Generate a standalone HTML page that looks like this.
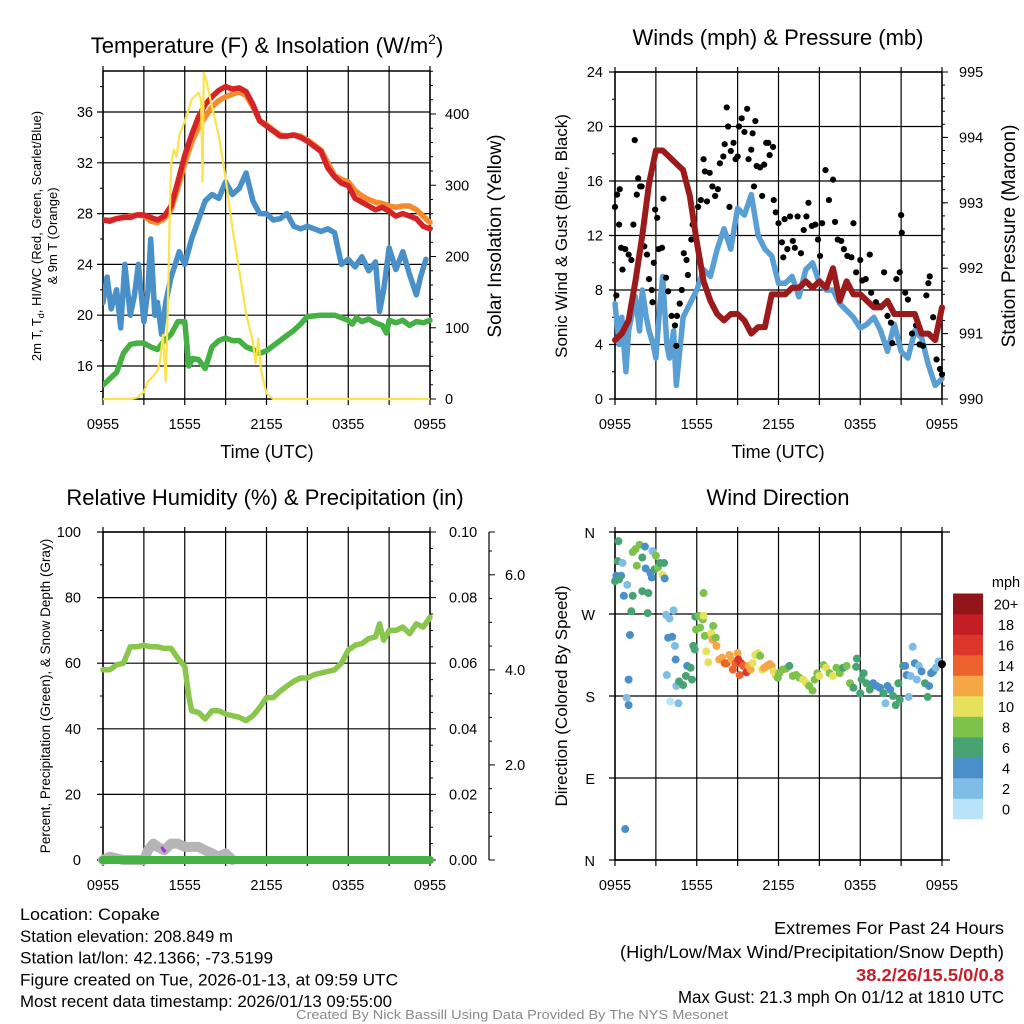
<!DOCTYPE html>
<html><head><meta charset="utf-8">
<style>
html,body{margin:0;padding:0;background:#fff;}
svg{display:block;font-family:"Liberation Sans",sans-serif;}
.ft{font-family:"Liberation Sans Narrow","Liberation Sans",sans-serif;}
</style></head>
<body>
<svg id="c" width="1024" height="1024" viewBox="0 0 1024 1024"></svg>
<script>
// ---------- DATA ----------
const tempHours=[0,0.5,1,1.5,2,2.5,3,3.5,4,4.5,5,5.5,6,6.5,7,7.5,8,8.5,9,9.5,10,10.5,11,11.5,12,12.5,13,13.5,14,14.5,15,15.5,16,16.5,17,17.5,18,18.5,19,19.5,20,20.5,21,21.5,22,22.5,23,23.5,24];
const tempRed=[27.5,27.4,27.6,27.7,27.7,27.9,27.9,27.7,27.5,27.8,28.6,30.5,32.6,34.2,35.6,36.6,37.2,37.7,38.0,37.8,37.9,37.6,36.6,35.3,34.9,34.5,34.1,34.1,34.2,34.0,33.7,33.3,32.9,31.6,30.9,30.4,30.2,29.2,28.9,28.6,28.3,28.5,28.2,27.8,28.0,27.8,27.6,27.0,26.8];
const tempOrange=[27.5,27.5,27.6,27.7,27.8,27.9,27.8,27.4,27.3,27.6,28.3,30.0,32.0,33.6,34.8,35.6,36.4,36.9,37.2,37.4,37.6,37.3,36.4,35.3,35.0,34.6,34.2,34.1,34.2,34.1,33.8,33.4,33.0,32.0,31.0,30.7,30.5,29.8,29.4,29.1,28.9,28.8,28.6,28.5,28.6,28.6,28.3,27.8,27.3];
const dewHours=[0,0.3,0.6,1,1.3,1.6,2,2.3,2.6,3,3.3,3.5,3.8,4,4.3,4.6,5,5.3,5.6,6,6.5,7,7.5,8,8.5,9,9.5,10,10.5,11,11.5,12,12.5,13,13.5,14,14.5,15,15.5,16,16.5,17,17.5,18,18.5,19,19.5,20,20.3,20.6,21,21.5,22,22.5,23,23.3,23.7];
const dewBlue=[21,23,20.5,22,19,24,20,21.5,24,19.5,22,26,20,21,18.5,21,23,24,25,24,26,27.5,29,29.5,29.2,30.5,29.5,30,31.2,29,28,28,27.5,27.6,28,27,26.8,27,26.8,26.6,26.8,26.5,24,24.4,23.8,24.6,23.5,24.2,20.3,22,25.3,23.6,25,23.2,21.6,23,24.4];
const wcHours=[0,0.5,1,1.5,2,2.5,3,3.5,4,4.5,5,5.5,6,6.3,6.6,7,7.5,8,8.5,9,9.5,10,10.5,11,11.5,12,12.5,13,13.5,14,14.5,15,16,17,17.5,18,18.3,18.6,19,19.5,20,20.5,20.8,21,21.5,22,22.5,23,23.5,24];
const wcGreen=[14.5,15.0,15.5,17.0,17.7,17.8,17.8,17.5,17.3,18.0,18.5,19.5,19.5,16.0,16.6,16.5,15.8,17.5,18.0,18.2,18.0,18.0,17.5,17.3,17.0,17.2,17.6,18.0,18.4,18.8,19.3,19.9,20.0,20.0,19.8,19.6,19.3,19.8,19.5,19.7,19.4,19.2,18.6,19.6,19.4,19.6,19.2,19.5,19.4,19.6];
const solarHours=[0,2,2.5,3,3.3,3.6,4,4.2,4.4,4.5,4.6,4.75,4.9,5.0,5.2,5.4,5.6,6,6.5,7,7.2,7.3,7.4,7.6,8,8.5,9,9.5,10,10.5,11,11.2,11.4,11.6,12,12.5,24];
const solarW=[0,0,2,10,25,30,40,55,90,60,25,120,260,330,350,340,370,390,420,430,420,305,458,445,410,370,310,240,180,120,80,50,85,40,8,0,0];
const windHours=[0,0.3,0.5,0.8,1,1.3,1.5,1.8,2,2.3,2.5,2.8,3,3.3,3.5,3.8,4,4.3,4.5,4.8,5,5.5,6,6.5,7,7.5,8,8.5,9,9.5,10,10.5,11,11.5,12,12.5,13,13.5,14,14.5,15,15.5,16,16.5,17,17.5,18,18.5,19,19.5,20,20.5,21,21.5,22,22.5,23,23.5,24];
const windBlue=[7,4,6,2,5,6.5,7.5,5,8,6,5,4,3,7,9,4,3,5,1,4,6,7,8,9.5,9,11,12.5,11,14,13.5,15,12,11,10.5,8.5,8.5,9,7.5,9.5,10,8.5,8,8,7,6.5,6,5.2,5.5,6,5,3.5,5.5,3.5,3,5,4.5,2.5,1,1.5];
const presHours=[0,0.5,1,1.5,2,2.5,3,3.5,4,4.5,5,5.5,6,6.5,7,7.5,8,8.5,9,9.5,10,10.5,11,11.5,12,12.5,13,13.5,14,14.5,15,15.5,16,16.5,17,17.5,18,18.5,19,19.5,20,20.5,21,21.5,22,22.5,23,23.5,24];
const presMb=[990.9,991.0,991.2,991.8,992.5,993.3,993.8,993.8,993.7,993.6,993.5,993.1,992.4,991.8,991.5,991.3,991.2,991.3,991.3,991.2,991.0,991.1,991.1,991.6,991.6,991.6,991.7,991.7,991.8,991.7,991.8,991.7,992.0,991.5,991.8,991.6,991.6,991.5,991.4,991.4,991.5,991.3,991.3,991.3,991.3,991.0,991.0,990.9,991.4];
const gustHours=[0,0.1,0.15,0.3,0.35,0.45,0.55,0.75,1.0,1.2,1.35,1.45,1.6,1.7,1.85,1.95,2.15,2.35,2.5,2.7,2.75,2.85,2.95,3.1,3.2,3.45,3.55,3.75,3.9,4.15,4.4,4.5,4.55,4.75,4.9,5.05,5.25,5.35,5.6,5.7,5.9,6.1,6.3,6.5,6.6,6.75,6.95,7.15,7.35,7.55,7.7,7.95,8.05,8.2,8.3,8.4,8.5,8.7,8.85,9.0,9.1,9.3,9.5,9.7,9.8,10.0,10.1,10.2,10.3,10.4,10.65,10.8,10.95,11.1,11.25,11.35,11.6,11.65,11.8,12.0,12.25,12.35,12.45,12.65,12.85,13.05,13.2,13.4,13.65,13.85,14.05,14.2,14.45,14.7,14.9,15.05,15.2,15.45,15.7,16.0,16.15,16.35,16.6,16.8,17.05,17.35,17.5,17.7,18.0,18.15,18.4,18.7,18.8,19.15,19.4,19.75,20.0,20.25,20.35,20.65,20.9,21.0,21.05,21.3,21.5,21.8,22.1,22.35,22.6,22.85,23.0,23.1,23.35,23.6,23.85,24.0];
const gustMph=[14.1,7.6,15.0,12.8,15.4,11.1,9.5,11.0,10.6,10.2,12.8,19.0,15.0,16.2,15.6,15.6,11.2,10.6,8.8,8.0,7.1,10.0,13.9,13.3,11.0,11.1,14.7,8.9,7.9,6.1,5.4,3.9,6.1,7.0,8.0,10.7,10.2,9.1,11.7,12.8,11.8,14.1,14.6,17.6,16.7,14.5,16.6,15.6,14.9,15.4,17.3,17.8,18.7,21.4,20.0,14.1,18.2,18.8,17.6,17.8,20.0,20.6,19.6,21.3,17.6,18.3,19.5,15.6,20.4,17.1,17.0,14.9,17.2,18.8,18.8,17.9,18.5,14.6,13.7,12.9,11.5,10.4,13.2,11.0,13.4,11.6,11.1,13.4,10.7,12.4,13.4,14.4,12.7,12.8,11.7,10.5,12.9,16.8,14.6,16.1,13.0,11.7,11.6,11.0,10.5,10.4,12.9,9.3,10.2,8.7,8.8,10.6,7.8,7.1,6.8,9.3,6.1,5.6,4.1,8.8,9.3,13.5,12.2,7.8,7.3,4.8,5.4,4.0,3.9,7.6,8.5,9.0,6.0,2.9,2.2,1.8];
const rhHours=[0,0.5,1,1.5,2,2.5,3,3.5,4,4.5,5,5.5,6,6.3,6.5,7,7.5,8,8.5,9,9.5,10,10.5,11,11.5,12,12.5,13,13.5,14,14.5,15,15.5,16,16.5,17,17.5,18,18.5,19,19.5,20,20.3,20.6,21,21.5,22,22.5,23,23.5,24];
const rhPct=[58,58,59.5,60,65,65,65.5,65,65,64.5,64.5,61.5,59,50,45.5,45,43,45.5,45.5,44.5,44,43.5,42.5,44,46.5,49.5,49.5,51.5,53,54.5,55.5,55.5,56.5,57,57.5,58,60,64,65.5,66,67.5,68,72,67,70,70,71,69,72,71,74];
const snowHours=[0,0.5,1,1.5,2,2.5,3,3.3,3.7,4,4.5,5,5.5,6,6.5,7,7.5,8,8.5,9,9.5];
const snowDepth=[0,1,0.5,0,0,0,0,3,5,4,3,5,5,4,4,4,3,2,1,2,0];
const dirHours=[0,0.1,0.2,0.45,0.3,0.55,0.65,0.9,1.0,0.85,0.75,1.1,1.0,1.2,1.3,0.25,1.3,1.5,1.8,1.6,2.0,2.2,2.0,2.45,2.4,2.25,2.6,2.75,2.7,2.9,3.0,3.15,3.3,3.6,3.5,3.65,3.75,4.0,3.9,4.2,4.3,4.4,4.45,3.8,4.05,4.65,4.5,4.7,5.0,5.3,5.2,5.55,5.65,5.75,5.85,5.9,6.15,5.95,6.25,6.45,6.5,6.5,6.6,6.7,6.85,7.05,7.15,7.2,7.4,7.45,7.65,7.85,8.05,8.2,8.4,8.55,8.65,8.85,9.0,9.05,9.15,9.25,9.4,9.5,9.65,9.8,9.95,10.1,10.3,10.5,10.65,10.8,10.95,11.15,11.35,11.5,11.65,11.8,11.95,12.05,12.3,12.55,12.8,13.05,13.3,13.55,13.8,14.05,14.25,14.5,14.65,14.85,15.0,15.3,15.5,15.75,16.0,16.25,16.5,16.75,17.0,17.25,17.5,17.75,17.7,18.0,18.1,18.25,18.45,18.7,18.95,19.2,19.45,19.7,19.85,20.0,20.2,20.4,20.6,20.8,20.9,21.15,21.3,21.4,21.55,21.7,21.85,22.0,22.15,22.3,22.5,22.75,22.95,23.05,23.2,23.35,23.55,23.75,24.0];
const dirDeg=[306,312,328,312,308,326,290,302,170,178,34,247,198,273,290,350,338,341,346,323,332,344,295,293,271,320,315,339,310,319,334,321,326,326,313,309,269,265,244,245,274,235,220,203,174,172,191,196,192,213,202,211,198,235,231,267,268,253,255,264,268,293,246,229,217,249,242,257,244,235,220,222,216,216,225,220,209,216,227,220,203,216,213,213,206,213,209,216,225,227,224,209,211,213,215,213,207,202,200,205,209,210,213,202,203,200,198,194,191,186,198,205,202,214,211,205,202,211,205,211,213,194,189,221,212,183,198,205,194,187,194,191,189,183,172,191,187,180,170,194,176,213,213,203,179,202,234,216,198,213,207,194,179,191,205,207,211,218,215];
const dirSpeed=[6,4,6,4,6,2,4,2,4,2,4,4,4,6,6,6,8,8,8,8,6,4,6,6,6,4,4,2,4,6,8,8,6,6,10,4,2,2,4,4,2,2,4,2,0,2,2,6,6,4,6,6,6,6,6,6,8,8,8,8,10,8,8,10,10,10,12,8,8,12,12,12,14,14,12,12,14,14,12,16,14,16,14,14,16,12,12,10,10,10,8,10,12,12,12,12,10,10,8,8,8,8,6,8,8,8,10,10,8,8,8,8,10,8,10,8,10,8,8,6,8,8,6,6,6,6,6,6,6,6,4,4,4,6,2,4,4,6,6,6,6,6,4,4,2,2,2,4,2,2,4,6,6,4,4,4,2,2];
const speedColors=["#b8e3f8","#80bde6","#4a8fc7","#47a472","#7dc24b","#e6e15b","#f6a745","#ee622d","#dc3529","#c21e24","#911519"];
const speedLabels=["0","2","4","6","8","10","12","14","16","18","20+"];
const timeLabels=["0955","1555","2155","0355","0955"];

// ---------- HELPERS ----------
const svg=document.getElementById('c');
const NS="http://www.w3.org/2000/svg";
function mk(tag,attrs,parent){const e=document.createElementNS(NS,tag);for(const k in attrs)e.setAttribute(k,attrs[k]);(parent||svg).appendChild(e);return e;}
function txt(s,x,y,size,anchor,parent,extra){const e=mk('text',Object.assign({x:x,y:y,'font-size':size,'text-anchor':anchor||'middle',fill:'#000'},extra||{}),parent);e.textContent=s;return e;}
function scale(d0,d1,r0,r1){return v=>r0+(v-d0)/(d1-d0)*(r1-r0);}
function pts(xs,ys,fx,fy){return xs.map((h,i)=>fx(h).toFixed(1)+','+fy(ys[i]).toFixed(1)).join(' ');}

function frame(g,x0,x1,y0,y1,yTicksPx,minorPx){
  yTicksPx.forEach(y=>{mk('line',{x1:x0-6,x2:x1,y1:y,y2:y,stroke:'#000','stroke-width':1.2},g);});
  minorPx.forEach(y=>{mk('line',{x1:x0-3,x2:x0,y1:y,y2:y,stroke:'#000','stroke-width':1},g);});
  for(let i=0;i<=8;i++){const x=x0+(x1-x0)*i/8;mk('line',{x1:x,x2:x,y1:y0-5,y2:y1+6,stroke:'#000','stroke-width':1.2},g);}
  mk('rect',{x:x0,y:y0,width:x1-x0,height:y1-y0,fill:'none',stroke:'#000','stroke-width':1.5},g);
  for(let i=0;i<5;i++){const x=x0+(x1-x0)*i/4;txt(timeLabels[i],x,y1+30,14.5,'middle',g);}
}

// ================= PANEL 1 =================
(function(){
const g=mk('g',{});


const X0=103,X1=430,Y0=71,Y1=399;
const fx=scale(0,24,X0,X1), fy=scale(16,36,366,112), fs=scale(0,400,399,114);
const tick=[16,20,24,28,32,36];
const minor=[];for(let v=14;v<=38;v+=2)if(v%4)minor.push(fy(v));
frame(g,X0,X1,Y0,Y1,tick.map(fy),minor);
tick.forEach(v=>txt(String(v),X0-10,fy(v)+5,14.5,'end',g));
[0,100,200,300,400].forEach(v=>{mk('line',{x1:X1,x2:X1+6,y1:fs(v),y2:fs(v),stroke:'#000'},g);txt(String(v),X1+15,fs(v)+5,14.5,'start',g);});
for(let v=20;v<=460;v+=20)if(v%100)mk('line',{x1:X1,x2:X1+3,y1:fs(v),y2:fs(v),stroke:'#000'},g);
const clip=mk('clipPath',{id:'cp1'},g);mk('rect',{x:X0,y:Y0-4,width:X1-X0+4,height:Y1-Y0+8},clip);
const pg=mk('g',{'clip-path':'url(#cp1)'},g);
const wc=mk('polyline',{points:pts(wcHours,wcGreen,fx,fy),fill:'none',stroke:'#45b044','stroke-width':5.5,'stroke-linejoin':'round','stroke-linecap':'round'},pg);


const dw=mk('polyline',{points:pts(dewHours,dewBlue,fx,fy),fill:'none',stroke:'#4a90c8','stroke-width':5.5,'stroke-linejoin':'round','stroke-linecap':'round'},pg);


const or=mk('polyline',{points:pts(tempHours,tempOrange,fx,fy),fill:'none',stroke:'#f48a2c','stroke-width':5.5,'stroke-linejoin':'round','stroke-linecap':'round'},pg);


const rd=mk('polyline',{points:pts(tempHours,tempRed,fx,fy),fill:'none',stroke:'#d42428','stroke-width':5.5,'stroke-linejoin':'round','stroke-linecap':'round'},pg);


const so=mk('polyline',{points:pts(solarHours,solarW,fx,fs),fill:'none',stroke:'#fbe34a','stroke-width':2.2,'stroke-linejoin':'round'},pg);


const t=txt('',267,53,22,'middle',g);t.innerHTML='Temperature (F) &amp; Insolation (W/m<tspan font-size="14" dy="-9">2</tspan><tspan dy="9">)</tspan>';


const xt=txt('Time (UTC)',267,458,18,'middle',g);


const yl=mk('text',{transform:'translate(41,236) rotate(-90)','font-size':13,'text-anchor':'middle'},g);
yl.innerHTML='2m T, T<tspan font-size="9" dy="3">d</tspan><tspan dy="-3">, HI/WC (Red, Green, Scarlet/Blue)</tspan>';


const yl2=txt('& 9m T (Orange)',0,0,13,'middle',g,{transform:'translate(57,236) rotate(-90)'});


const yr=txt('Solar Insolation (Yellow)',0,0,19,'middle',g,{transform:'translate(501,236) rotate(-90)'});


})();

// ================= PANEL 2 =================
(function(){
const g=mk('g',{});


const X0=615,X1=942,Y0=72,Y1=399;
const fx=scale(0,24,X0,X1), fy=scale(0,24,Y1,Y0), fp=scale(990,995,Y1,Y0);
const tick=[0,4,8,12,16,20,24];
const minor=[];for(let v=2;v<24;v+=4)minor.push(fy(v));
frame(g,X0,X1,Y0,Y1,tick.map(fy),minor);
tick.forEach(v=>txt(String(v),X0-12,fy(v)+5,14.5,'end',g));
[990,991,992,993,994,995].forEach(v=>{mk('line',{x1:X1,x2:X1+6,y1:fp(v),y2:fp(v),stroke:'#000'},g);txt(String(v),X1+17,fp(v)+5,14.5,'start',g);});
for(let v=990.2;v<995;v+=0.2)mk('line',{x1:X1,x2:X1+3,y1:fp(v),y2:fp(v),stroke:'#000'},g);
const clip=mk('clipPath',{id:'cp2'},g);mk('rect',{x:X0-4,y:Y0-4,width:X1-X0+8,height:Y1-Y0+8},clip);
const pg=mk('g',{'clip-path':'url(#cp2)'},g);
const wb=mk('polyline',{points:pts(windHours,windBlue,fx,fy),fill:'none',stroke:'#5a9fd4','stroke-width':5.5,'stroke-linejoin':'round','stroke-linecap':'round'},pg);


gustHours.forEach((h,i)=>{
  const c=mk('circle',{cx:fx(h),cy:fy(gustMph[i]),r:3.1,fill:'#000'},pg);
  
  
});
const pr=mk('polyline',{points:pts(presHours,presMb,fx,fp),fill:'none',stroke:'#9b1a1c','stroke-width':6,'stroke-linejoin':'round','stroke-linecap':'round'},pg);


const t=txt('Winds (mph) & Pressure (mb)',778,45,22,'middle',g);


const xt=txt('Time (UTC)',778,458,18,'middle',g);


const yl=txt('Sonic Wind & Gust (Blue, Black)',0,0,17,'middle',g,{transform:'translate(567,236) rotate(-90)'});


const yr=txt('Station Pressure (Maroon)',0,0,19,'middle',g,{transform:'translate(1015,236) rotate(-90)'});


})();

// ================= PANEL 3 =================
(function(){
const g=mk('g',{});


const X0=103,X1=430,Y0=532,Y1=860;
const fx=scale(0,24,X0,X1), fy=scale(0,100,Y1,Y0);
const tick=[0,20,40,60,80,100];
const minor=[];for(let v=10;v<100;v+=20)minor.push(fy(v));
frame(g,X0,X1,Y0,Y1,tick.map(fy),minor);
tick.forEach(v=>txt(String(v),X0-22,fy(v)+5,14.5,'end',g));
[0,0.02,0.04,0.06,0.08,0.10].forEach(v=>{const y=fy(v*1000);mk('line',{x1:X1,x2:X1+6,y1:y,y2:y,stroke:'#000'},g);txt(v.toFixed(2),X1+19,y+5,14.5,'start',g);});
for(let v=5;v<100;v+=5)if(v%20)mk('line',{x1:X1,x2:X1+3,y1:fy(v),y2:fy(v),stroke:'#000'},g);
mk('line',{x1:489,x2:489,y1:Y0,y2:Y1,stroke:'#000','stroke-width':1.2},g);
const fsd=scale(0,6.9,Y1,Y0);
[2,4,6].forEach(v=>{mk('line',{x1:489,x2:495,y1:fsd(v),y2:fsd(v),stroke:'#000'},g);txt(v.toFixed(1),505,fsd(v)+5,14.5,'start',g);});
for(let v=0.5;v<6.9;v+=0.5)if(v%2)mk('line',{x1:489,x2:492,y1:fsd(v),y2:fsd(v),stroke:'#000'},g);
mk('line',{x1:489,x2:495,y1:Y0,y2:Y0,stroke:'#000'},g);mk('line',{x1:489,x2:495,y1:Y1,y2:Y1,stroke:'#000'},g);
const clip=mk('clipPath',{id:'cp3'},g);mk('rect',{x:X0-10,y:Y0-4,width:X1-X0+20,height:Y1-Y0+14},clip);
const pg=mk('g',{'clip-path':'url(#cp3)'},g);
const sn=mk('polyline',{points:pts(snowHours,snowDepth,fx,fy),fill:'none',stroke:'#b5b5b5','stroke-width':10,'stroke-linejoin':'round','stroke-linecap':'round'},pg);


const pr=mk('line',{x1:fx(0),x2:fx(24),y1:fy(0),y2:fy(0),stroke:'#45b044','stroke-width':8,'stroke-linecap':'round'},pg);


const pm=mk('polyline',{points:pts([4.3,4.45,4.6],[4,3,2.5],fx,fy),fill:'none',stroke:'#a531e0','stroke-width':3},pg);


const rh=mk('polyline',{points:pts(rhHours,rhPct,fx,fy),fill:'none',stroke:'#8ac64c','stroke-width':5.5,'stroke-linejoin':'round','stroke-linecap':'round'},pg);


const t=txt('Relative Humidity (%) & Precipitation (in)',265,505,22,'middle',g);


const yl=txt('Percent, Precipitation (Green), & Snow Depth (Gray)',0,0,13.5,'middle',g,{transform:'translate(50,696) rotate(-90)'});


})();

// ================= PANEL 4 =================
(function(){
const g=mk('g',{});


const X0=615,X1=942,Y0=532,Y1=860;
const fx=scale(0,24,X0,X1), fy=scale(0,360,Y1,Y0);
const tick=[0,90,180,270,360], lab=['N','E','S','W','N'];
frame(g,X0,X1,Y0,Y1,tick.map(fy),[]);
mk('line',{x1:X0,x2:X1+8,y1:Y0,y2:Y0,stroke:'#000','stroke-width':1.2},g);
mk('line',{x1:X0,x2:X1+8,y1:Y1,y2:Y1,stroke:'#000','stroke-width':1.2},g);
tick.forEach((v,i)=>txt(lab[i],X0-20,fy(v)+6,14.5,'end',g));
dirHours.forEach((h,i)=>{
  const c=mk('circle',{cx:fx(h),cy:fy(dirDeg[i]),r:4,fill:speedColors[Math.min(10,Math.floor(dirSpeed[i]/2))]},g);
  
  
});
const cb=mk('g',{},g);


speedColors.forEach((c,i)=>{
  const y=819-(i+1)*20.5;
  mk('rect',{x:953,y:y,width:30,height:20.8,fill:c},cb);
  txt(speedLabels[i],1006,y+16,14.5,'middle',cb);
});
txt('mph',1006,587,14.5,'middle',cb);
const t=txt('Wind Direction',778,505,22,'middle',g);


const yl=txt('Direction (Colored By Speed)',0,0,17,'middle',g,{transform:'translate(567,696) rotate(-90)'});


})();

// ================= FOOTER =================
(function(){
const g=mk('g',{class:'ft'});


const L=[['Location: Copake',140],['Station elevation: 208.849 m',213],['Station lat/lon: 42.1366; -73.5199',253],['Figure created on Tue, 2026-01-13, at 09:59 UTC',378],['Most recent data timestamp: 2026/01/13 09:55:00',372]];
L.forEach((s,i)=>txt(s[0],20,920+i*21.8,17,'start',g,{textLength:s[1],lengthAdjust:'spacingAndGlyphs'}));
const r=mk('g',{class:'ft'});


txt('Extremes For Past 24 Hours',1004,934,17.5,'end',r,{textLength:230,lengthAdjust:'spacingAndGlyphs'});
txt('(High/Low/Max Wind/Precipitation/Snow Depth)',1004,958,17.5,'end',r,{textLength:384,lengthAdjust:'spacingAndGlyphs'});
txt('38.2/26/15.5/0/0.8',1004,981,17.5,'end',r,{fill:'#c8202a','font-weight':'bold',textLength:148,lengthAdjust:'spacingAndGlyphs'});
txt('Max Gust: 21.3 mph On 01/12 at 1810 UTC',1004,1003,17.5,'end',r,{textLength:326,lengthAdjust:'spacingAndGlyphs'});
const cr=txt('Created By Nick Bassill Using Data Provided By The NYS Mesonet',512,1019,13,'middle',null,{fill:'#8a8a8a',class:'ft',textLength:432,lengthAdjust:'spacingAndGlyphs'});


})();
</script>
</body></html>
